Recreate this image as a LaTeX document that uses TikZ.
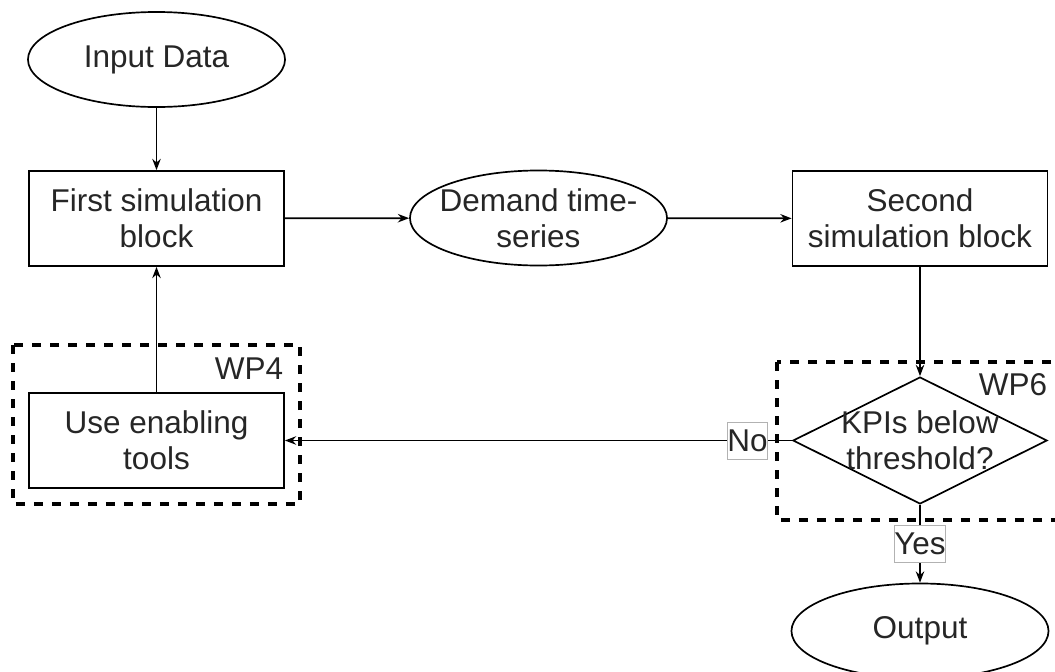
\documentclass[tikz,border=0pt]{standalone}
\usepackage{fontspec}
\setmainfont{Liberation Sans}
\usetikzlibrary{shapes.geometric, arrows.meta}

\begin{document}
\begin{tikzpicture}[x=0.025cm, y=-0.025cm, >={Stealth[length=8pt, width=6pt]}, line width=1.2pt,
    every node/.style={font=\fontsize{22.4}{25.6}\selectfont, text=black!85, inner sep=0pt, align=center},
    term/.style={draw, ellipse, minimum width=6.425cm, minimum height=2.375cm},
    block/.style={draw, rectangle, minimum width=6.375cm, minimum height=2.375cm},
    decision/.style={draw, diamond, minimum width=6.35cm, minimum height=3.175cm},
    wp/.style={line width=2.3pt, dash pattern=on 6.4pt off 6.4pt},
    tag/.style={fill=white, draw=black!30, line width=0.5pt, minimum height=0.925cm}]
    \useasboundingbox (0,0) rectangle (1055,672);

    % work packages
    \draw[wp] (13,345) rectangle (300,504);
    \draw[wp] (777,362) rectangle (1062,520);
    \node[anchor=east] (wpfour) at (284,369) {WP4};
    \node[anchor=east] (wpsix) at (1048,385) {WP6};

    % top row
    \node[term] (input) at (156.5,59.5) {Input Data};
    \node[block] (first) at (156.5,218.5) {First simulation\\block};
    \node[term] (demand) at (538.5,218) {};
    \node (demandtext) at (demand) {Demand time-\\series};
    \node[block] (second) at (920,218.5) {Second\\simulation block};

    % feedback loop and output
    \node[block] (tools) at (156.5,440.5) {Use enabling\\tools};
    \node[decision] (kpi) at (920,440.5) {};
    \node (kpitext) at (kpi) {KPIs below\\threshold?};
    \node[term] (output) at (920,631) {Output};

    \draw[->] (input) -- (first);
    \draw[->] (first) -- (demand);
    \draw[->] (demand) -- (second);
    \draw[->] (second) -- (kpi);
    \draw[->] (kpi) -- node[tag, pos=0.088] {No} (tools);
    \draw[->] (tools) -- (first);
    \draw[->] (kpi) -- node[tag] {Yes} (output);
\end{tikzpicture}
\end{document}
